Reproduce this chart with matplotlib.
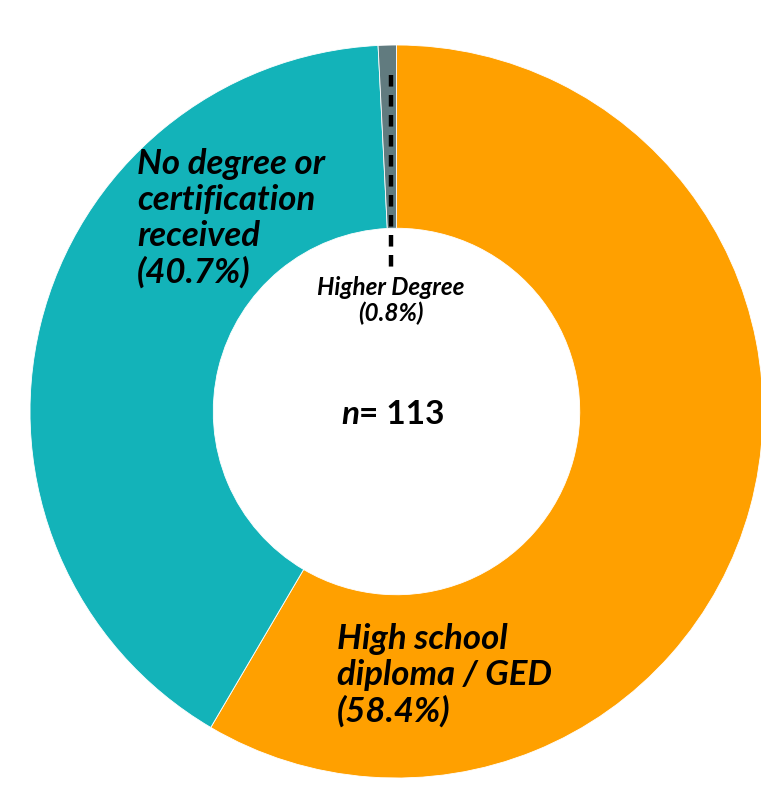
import matplotlib
matplotlib.use('Agg')
import matplotlib.pyplot as plt

# data
labels = ['High school\ndiploma / GED', 'No degree or\ncertification\nreceived', 'Higher Degree']
shares = [58.4, 40.7, 0.8]
colors = ['#FFA000', '#13B3B9', '#617B7F']
n_total = 113

W, H = 761, 790
fig = plt.figure(figsize=(W / 100, H / 100), dpi=100)
ax = fig.add_axes([0, 0, 1, 1])
ax.set_xlim(0, W)
ax.set_ylim(0, H)
ax.set_aspect('equal')
ax.axis('off')

cx, cy, r = 396.5, H - 411.5, 366.5
ax.pie(shares, colors=colors, startangle=90, counterclock=False,
       center=(cx, cy), radius=r, frame=True,
       wedgeprops=dict(width=r * 0.5, edgecolor='white', linewidth=0.6))
ax.set_xlim(0, W)
ax.set_ylim(0, H)
ax.axis('off')

font = dict(family='Lato', weight='bold', style='italic', color='black')

# labels
ax.text(137, H - 148, labels[1] + '\n(%.1f%%)' % shares[1], ha='left', va='top',
        fontsize=25, linespacing=1.15, **font)
ax.text(337, H - 623, labels[0] + '\n(%.1f%%)' % shares[0], ha='left', va='top',
        fontsize=25, linespacing=1.15, **font)
ax.text(391, H - 276, labels[2] + '\n(%.1f%%)' % shares[2], ha='center', va='top',
        fontsize=17.5, linespacing=1.15, **font)

# leader line for the small slice
ax.plot([391, 391], [H - 75, H - 268], color='black', lw=3.2,
        dashes=(2.6, 1.9), solid_capstyle='butt', dash_capstyle='butt')

# n label
ax.text(359, H - 415, 'n', ha='right', va='center', fontsize=24, **font)
ax.text(359, H - 415, '= %d' % n_total, ha='left', va='center', fontsize=24,
        family='Lato', weight='bold', color='black')

fig.savefig('out.png', dpi=100)
